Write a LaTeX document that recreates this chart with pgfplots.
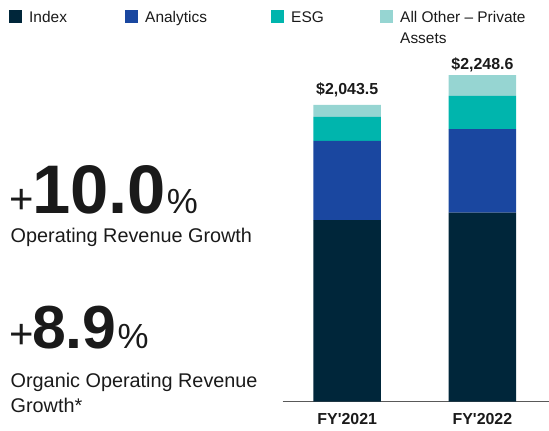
\documentclass[border=0pt]{standalone}
\usepackage{pgfplots}
\pgfplotsset{compat=1.18}
\usepackage{fontspec}
\setmainfont{Liberation Sans}
\definecolor{idxnavy}{HTML}{00263A}
\definecolor{anablue}{HTML}{1A47A0}
\definecolor{esgteal}{HTML}{00B5AD}
\definecolor{othlight}{HTML}{96D5D2}
\definecolor{txt}{HTML}{1A1A1A}

\begin{document}
\begin{tikzpicture}[x=1bp, y=1bp, every node/.style={inner sep=0pt, text=txt}]
\useasboundingbox (0,0) rectangle (549,430);

% legend
\fill[idxnavy]  (9,406.7)   rectangle ++(13.3,13.3);
\fill[anablue]  (125,406.7) rectangle ++(13.3,13.3);
\fill[esgteal]  (270.7,406.7) rectangle ++(13.3,13.3);
\fill[othlight] (380,406.7) rectangle ++(13.3,13.3);
\begin{scope}[every node/.append style={anchor=base west, font=\fontsize{15.5}{18}\selectfont}]
\node at (29,407) {Index};
\node at (145,407) {Analytics};
\node at (291,407) {ESG};
\node at (400,407) {All Other -- Private};
\node at (400,386.7) {Assets};
\end{scope}

% headline figures
\node[anchor=base west] at (9.5,216.7)
  {{\fontsize{42}{42}\selectfont +}\kern-2bp{\fontsize{69}{69}\selectfont\bfseries 10.0}\kern1bp{\fontsize{35}{35}\selectfont\%}};
\node[anchor=base west, font=\fontsize{19.9}{23}\selectfont] at (10.5,187.7) {Operating Revenue Growth};
\node[anchor=base west] at (9.5,81.7)
  {{\fontsize{42}{42}\selectfont +}\kern-2bp{\fontsize{61}{61}\selectfont\bfseries 8.9}\kern1bp{\fontsize{35}{35}\selectfont\%}};
\node[anchor=base west, font=\fontsize{19.9}{23}\selectfont] at (10.5,42.3) {Organic Operating Revenue};
\node[anchor=base west, font=\fontsize{19.9}{23}\selectfont] at (10.5,17.7) {Growth*};

\begin{axis}[
  at={(282.7bp,28.3bp)}, anchor=south west,
  scale only axis, width=266.3bp, height=363.1bp,
  xmin=-0.477, xmax=1.4926, ymin=0, ymax=2500,
  axis x line=bottom, axis y line=none,
  x axis line style={-, draw=black!65, line width=1bp},
  xtick={0,1},
  xticklabels={FY\textquotesingle 2021, FY\textquotesingle 2022},
  major tick length=0pt,
  xticklabel style={anchor=base, yshift=-22.3bp, font=\fontsize{16}{16}\selectfont\bfseries},
  ytick=\empty,
  ybar stacked, bar width=67.5bp,
  clip=false,
]
\addplot[fill=idxnavy, draw=none]  coordinates {(0,1250.6) (1,1302.0)};
\addplot[fill=anablue, draw=none]  coordinates {(0,544.6) (1,574.0)};
\addplot[fill=esgteal, draw=none]  coordinates {(0,165.6) (1,229.0)};
\addplot[fill=othlight, draw=none] coordinates {(0,82.7) (1,143.6)};
\node[anchor=base, yshift=10bp, font=\fontsize{16}{16}\selectfont\bfseries] at (axis cs:0,2043.5) {\$2,043.5};
\node[anchor=base, yshift=6bp, font=\fontsize{16}{16}\selectfont\bfseries] at (axis cs:1,2248.6) {\$2,248.6};
\end{axis}
\end{tikzpicture}
\end{document}
